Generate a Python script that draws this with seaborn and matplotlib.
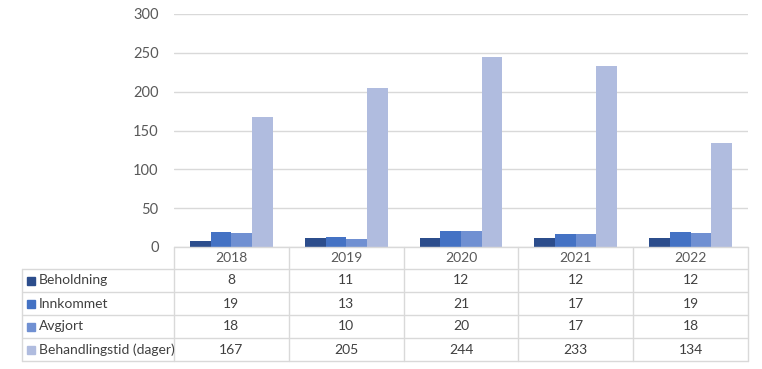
import matplotlib
matplotlib.use("Agg")
import matplotlib.pyplot as plt
import matplotlib.transforms as mtransforms
import seaborn as sns
import pandas as pd

# ---------------------------------------------------
# Data
# ---------------------------------------------------
years = ["2018", "2019", "2020", "2021", "2022"]
series = ["Beholdning", "Innkommet", "Avgjort", "Behandlingstid (dager)"]
beholdning = [8, 11, 12, 12, 12]
innkommet = [19, 13, 21, 17, 19]
avgjort = [18, 10, 20, 17, 18]
behandlingstid = [167, 205, 244, 233, 134]

colors = ["#2C4D8C", "#4472C4", "#7090D2", "#B0BCDF"]

values = [beholdning, innkommet, avgjort, behandlingstid]
df = pd.DataFrame({
    "year": [y for s in values for y in years],
    "series": [name for name, s in zip(series, values) for _ in s],
    "value": [v for s in values for v in s],
})

# ---------------------------------------------------
# Figure / axes placed in pixels
# ---------------------------------------------------
W, H = 762, 369
sns.set_style("white")
plt.rcParams["font.family"] = ["Lato", "DejaVu Sans"]
fig = plt.figure(figsize=(W / 100, H / 100), dpi=100)

x0, x1 = 174, 748
ytop, ybot = 14, 247
ax = fig.add_axes([x0 / W, 1 - ybot / H, (x1 - x0) / W, (ybot - ytop) / H])

sns.barplot(data=df, x="year", y="value", hue="series", palette=colors,
            width=0.72, gap=0, saturation=1, linewidth=0, legend=False, ax=ax)

ax.set_ylim(0, 300)
ax.set_xlim(-0.5, 4.5)
ax.set_yticks(range(0, 301, 50))
ax.yaxis.grid(True, color="#D9D9D9", linewidth=1)
ax.set_axisbelow(True)
for sp in ax.spines.values():
    sp.set_visible(False)
ax.set_xticks([])
ax.set_xlabel("")
ax.set_ylabel("")
ax.tick_params(axis="y", length=0, pad=11, labelsize=10.5, labelcolor="#595959")

# ---------------------------------------------------
# Data table below the plot
# ---------------------------------------------------
line_c = "#D9D9D9"
txt_c = "#404040"
rows_y = [247, 269, 292, 315, 338, 361]
fy = lambda py: 1 - py / H
blend = mtransforms.blended_transform_factory(ax.transData, fig.transFigure)

# horizontal lines
fig.add_artist(plt.Line2D([x0 / W, x1 / W], [fy(247)] * 2, color=line_c, lw=1))
for py in rows_y[1:]:
    fig.add_artist(plt.Line2D([22 / W, x1 / W], [fy(py)] * 2, color=line_c, lw=1))

# vertical lines
for i in range(len(years) + 1):
    xd = i - 0.5
    fig.add_artist(plt.Line2D([xd, xd], [fy(247), fy(361)], color=line_c, lw=1,
                              transform=blend))
fig.add_artist(plt.Line2D([22 / W, 22 / W], [fy(269), fy(361)], color=line_c, lw=1))

# header
for i, y in enumerate(years):
    fig.text(i, fy((rows_y[0] + rows_y[1]) / 2), y, transform=blend,
             ha="center", va="center", fontsize=10, color="#595959")

# rows
for r, (name, vals) in enumerate(zip(series, values)):
    yc = fy((rows_y[r + 1] + rows_y[r + 2]) / 2)
    fig.patches.append(plt.Rectangle((27 / W, yc - 4 / H), 8 / W, 8 / H,
                                     color=colors[r], transform=fig.transFigure))
    fig.text(39 / W, yc, name, ha="left", va="center", fontsize=10, color=txt_c)
    for i, v in enumerate(vals):
        fig.text(i, yc, str(v), transform=blend, ha="center", va="center",
                 fontsize=10, color=txt_c)

fig.savefig("out.png", dpi=100)
